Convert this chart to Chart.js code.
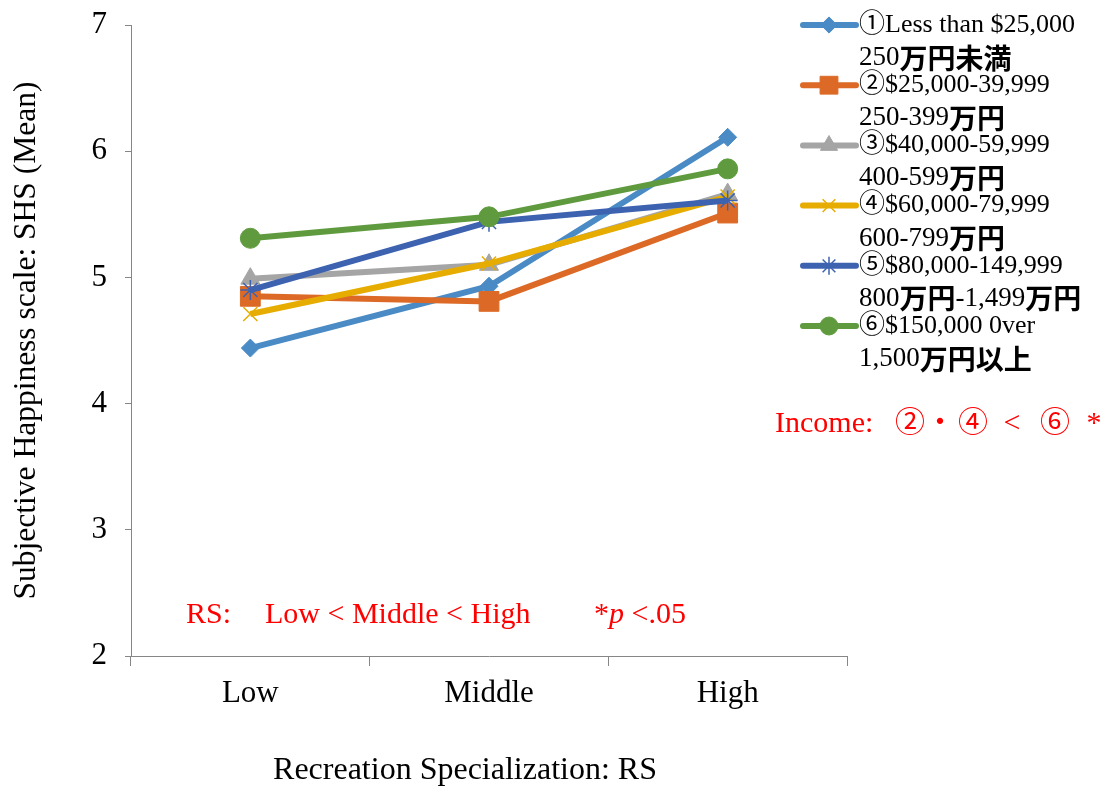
<!DOCTYPE html>
<html>
<head>
<meta charset="utf-8">
<script src="https://cdn.jsdelivr.net/npm/chart.js@4"></script>
<style>
  html, body { margin: 0; padding: 0; background: #fff; }
  #wrap { width: 1105px; height: 787px; }
</style>
</head>
<body>
<div id="wrap"><canvas id="shs"></canvas></div>
<script>
const categories = ["Low", "Middle", "High"];
const labelsEn = ["①Less than $25,000", "②$25,000-39,999", "③$40,000-59,999", "④$60,000-79,999", "⑤$80,000-149,999", "⑥$150,000 0ver"];
const labelsJa = ["250万円未満", "250-399万円", "400-599万円", "600-799万円", "800万円-1,499万円", "1,500万円以上"];
const under25k = [4.44, 4.93, 6.11];
const from25k = [4.85, 4.81, 5.51];
const from40k = [4.99, 5.10, 5.66];
const from60k = [4.71, 5.11, 5.64];
const from80k = [4.90, 5.44, 5.61];
const over150k = [5.31, 5.48, 5.86];
const colors = ["#4a8bc6", "#dc6a26", "#a5a5a5", "#e6ad00", "#3d63b0", "#5f9b3e"];
const markers = ["rectRot", "rect", "triangle", "crossRot", "star", "circle"];
const markerSize = [9, 14, 11, 10, 10, 10];
const seriesValues = [under25k, from25k, from40k, from60k, from80k, over150k];

const serif = "'Liberation Serif', 'Times New Roman', 'Noto Sans CJK JP', serif";

const datasets = seriesValues.map(function (vals, i) {
  return {
    label: labelsEn[i],
    data: vals,
    borderColor: colors[i],
    backgroundColor: colors[i],
    borderWidth: 6,
    pointStyle: markers[i],
    pointRadius: markerSize[i],
    pointBorderWidth: (markers[i] === "crossRot" || markers[i] === "star") ? 1.5 : 1,
    pointBackgroundColor: colors[i],
    pointBorderColor: colors[i],
    tension: 0,
    order: 5 - i, // later series on top like Excel
  };
});

// draws a label with latin in serif and CJK in bold gothic
function mixedText(c, text, x, y, size) {
  const runs = text.match(/[\u3000-\u9fff]+|[^\u3000-\u9fff]+/g);
  runs.forEach(function (r) {
    if (/[\u3000-\u9fff]/.test(r)) {
      c.font = "bold " + (size + 1) + "px 'Noto Sans CJK JP', sans-serif";
    } else {
      c.font = size + "px " + serif;
    }
    c.fillText(r, x, y);
    x += c.measureText(r).width;
  });
  return x;
}

// legend + red notes drawn by hand
const extras = {
  id: "extras",
  afterDraw(chart) {
    const c = chart.ctx;
    c.save();
    chart.data.datasets.forEach(function (ds, i) {
      const y = 25 + i * 60.2;
      c.strokeStyle = ds.borderColor;
      c.lineWidth = 6;
      c.lineCap = "round";
      c.beginPath();
      c.moveTo(803, y);
      c.lineTo(856, y);
      c.stroke();
      c.lineCap = "butt";
      c.fillStyle = ds.backgroundColor;
      c.lineWidth = ds.pointBorderWidth;
      Chart.helpers.drawPoint(c, { pointStyle: ds.pointStyle, radius: ds.pointRadius * 0.9, rotation: 0, borderWidth: ds.pointBorderWidth }, 829, y);
      c.fillStyle = "#000";
      c.textBaseline = "middle";
      c.textAlign = "left";
      c.font = "26px " + serif;
      c.fillText(labelsEn[i], 859, y);
      mixedText(c, labelsJa[i], 859, y + 33, 27);
    });

    // x axis title
    c.fillStyle = "#000";
    c.textAlign = "center";
    c.font = "32px " + serif;
    c.fillText("Recreation Specialization: RS", 465, 771);

    c.fillStyle = "#ff0000";
    c.textAlign = "left";
    c.font = "30px " + serif;
    const y1 = 615;
    c.fillText("RS:", 186, y1);
    c.fillText("Low < Middle < High", 265, y1);
    c.fillText("*", 594, y1);
    let x = 594 + c.measureText("*").width;
    c.font = "italic 30px " + serif;
    c.fillText("p", x, y1);
    x += c.measureText("p").width;
    c.font = "30px " + serif;
    c.fillText(" <.05", x, y1);

    const y2 = 424;
    c.font = "30px " + serif;
    c.fillText("Income:", 775, y2);
    c.textAlign = "center";
    c.fillText("②", 910, y2);
    c.fillText("・", 940, y2);
    c.fillText("④", 973, y2);
    c.fillText("<", 1012, y2);
    c.fillText("⑥", 1055, y2);
    c.fillText("*", 1094, y2);
    c.restore();
  },
};

const ctx = document.getElementById("shs").getContext("2d");
const chart = new Chart(ctx, {
  type: "line",
  data: {
    labels: categories,
    datasets: datasets,
  },
  options: {
    responsive: true,
    maintainAspectRatio: false,
    animation: false,
    layout: {
      padding: { top: 25, right: 258, left: 0, bottom: 0 },
    },
    plugins: {
      legend: { display: false },
      tooltip: { enabled: false },
    },
    scales: {
      x: {
        offset: true,
        grid: { offset: true, drawOnChartArea: false, tickLength: 10, color: "#868686" },
        border: { color: "#868686" },
        ticks: { color: "#000", font: { family: serif, size: 31 }, padding: 9 },
        afterFit: function (scale) {
          scale.height = 131;
          scale.paddingLeft = 0;
          scale.paddingRight = 0;
        },
      },
      y: {
        min: 2,
        max: 7,
        ticks: { stepSize: 1, color: "#000", font: { family: serif, size: 31 }, padding: 18 },
        grid: { drawOnChartArea: false, tickLength: 6, color: "#868686" },
        border: { color: "#868686" },
        title: {
          display: true,
          text: "Subjective Happiness scale: SHS (Mean)",
          color: "#000",
          font: { family: serif, size: 31.5 },
          padding: { top: 8, bottom: 0 },
        },
        afterFit: function (scale) {
          scale.width = 131;
          scale.paddingTop = 0;
          scale.paddingBottom = 0;
        },
      },
    },
  },
  plugins: [extras],
});
</script>
</body>
</html>
